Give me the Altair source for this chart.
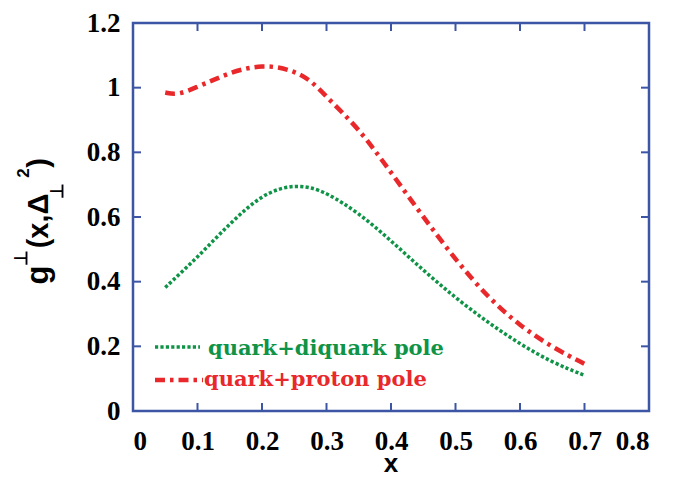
import altair as alt
import pandas as pd

# ---- data ----
x_diquark = [0.05, 0.075, 0.1, 0.125, 0.15, 0.175, 0.2, 0.225, 0.25, 0.275, 0.3, 0.35, 0.4, 0.45, 0.5, 0.55, 0.6, 0.65, 0.7]
y_diquark = [0.382, 0.429, 0.476, 0.528, 0.578, 0.625, 0.664, 0.687, 0.697, 0.692, 0.675, 0.613, 0.527, 0.435, 0.350, 0.274, 0.207, 0.150, 0.110]

x_proton = [0.05, 0.07, 0.1, 0.125, 0.15, 0.175, 0.2, 0.225, 0.25, 0.275, 0.3, 0.325, 0.35, 0.375, 0.4, 0.45, 0.5, 0.55, 0.6, 0.65, 0.7]
y_proton = [0.985, 0.977, 1.003, 1.024, 1.045, 1.060, 1.067, 1.064, 1.050, 1.024, 0.972, 0.922, 0.870, 0.806, 0.738, 0.600, 0.468, 0.352, 0.263, 0.197, 0.146]

series_names = ["quark+diquark pole", "quark+proton pole"]
x_ticks = [0, 0.1, 0.2, 0.3, 0.4, 0.5, 0.6, 0.7, 0.8]
y_ticks = [0, 0.2, 0.4, 0.6, 0.8, 1, 1.2]

GREEN = "#0f9447"
RED = "#e8282b"
BLUE = "#3c55a5"
W, H = 516, 388

df = pd.concat([
    pd.DataFrame({"x": x_diquark, "y": y_diquark, "series": series_names[0]}),
    pd.DataFrame({"x": x_proton, "y": y_proton, "series": series_names[1]}),
])

xs = alt.Scale(domain=[0, 0.8], nice=False)
ys = alt.Scale(domain=[0, 1.2], nice=False)

lab_font = "Liberation Serif"

x_axis = alt.Axis(values=x_ticks, labelExpr="datum.value + ''", ticks=False, domain=False, grid=False,
                  labelFont=lab_font, labelFontSize=27, labelFontWeight="bold", labelColor="black",
                  labelPadding=17, title=None)
y_axis = alt.Axis(values=y_ticks, labelExpr="datum.value + ''", ticks=False, domain=False, grid=False,
                  labelFont=lab_font, labelFontSize=27, labelFontWeight="bold", labelColor="black",
                  labelPadding=13, title=None)

base = alt.Chart(df)

green = base.transform_filter(alt.datum.series == series_names[0]).mark_line(
    color=GREEN, strokeWidth=3.5, strokeDash=[3.2, 2.2], interpolate="basis", strokeCap="butt"
).encode(x=alt.X("x:Q", scale=xs, axis=x_axis), y=alt.Y("y:Q", scale=ys, axis=y_axis), order="x:Q")

red = base.transform_filter(alt.datum.series == series_names[1]).mark_line(
    color=RED, strokeWidth=4.5, strokeDash=[10, 5, 3.5, 5], interpolate="basis", strokeCap="butt"
).encode(x=alt.X("x:Q", scale=xs), y=alt.Y("y:Q", scale=ys), order="x:Q")

xt = pd.DataFrame({"v": x_ticks[1:-1]})
yt = pd.DataFrame({"v": y_ticks[1:-1]})
TL = 8
tick_bottom = alt.Chart(xt).mark_rule(color=BLUE, strokeWidth=2).encode(
    x=alt.X("v:Q", scale=xs), y=alt.value(H), y2=alt.value(H - TL))
tick_top = alt.Chart(xt).mark_rule(color=BLUE, strokeWidth=2).encode(
    x=alt.X("v:Q", scale=xs), y=alt.value(0), y2=alt.value(TL))
tick_left = alt.Chart(yt).mark_rule(color=BLUE, strokeWidth=2).encode(
    y=alt.Y("v:Q", scale=ys), x=alt.value(0), x2=alt.value(TL))
tick_right = alt.Chart(yt).mark_rule(color=BLUE, strokeWidth=2).encode(
    y=alt.Y("v:Q", scale=ys), x=alt.value(W - TL), x2=alt.value(W))

# legend (drawn manually, inside plot area at lower left)
leg_g = pd.DataFrame({"t": [series_names[0]]})
leg_r = pd.DataFrame({"t": [series_names[1]]})
leg_line_g = alt.Chart(leg_g).mark_rule(color=GREEN, strokeWidth=3.5, strokeDash=[3.2, 2.2]).encode(
    x=alt.value(22), x2=alt.value(67), y=alt.value(324))
leg_line_r = alt.Chart(leg_r).mark_rule(color=RED, strokeWidth=4.5, strokeDash=[10, 5, 3.5, 5]).encode(
    x=alt.value(22), x2=alt.value(70), y=alt.value(357))
leg_txt_g = alt.Chart(leg_g).mark_text(align="left", baseline="alphabetic", font="DejaVu Serif",
                                       fontWeight="bold", fontSize=21, color=GREEN).encode(
    x=alt.value(75), y=alt.value(332), text="t:N")
leg_txt_r = alt.Chart(leg_r).mark_text(align="left", baseline="alphabetic", font="DejaVu Serif",
                                       fontWeight="bold", fontSize=21, color=RED).encode(
    x=alt.value(71), y=alt.value(363), text="t:N")

# axis titles
one = pd.DataFrame({"a": [0]})
def txt(s, x, y, size, angle=0):
    return alt.Chart(one).mark_text(text=s, align="center", baseline="alphabetic", font="Liberation Sans",
                                    fontWeight="bold", fontSize=size, color="black", angle=angle).encode(
        x=alt.value(x), y=alt.value(y))

x_title = txt("x", W / 2, 449, 26)
yt_g = txt("g", -85, 252, 31, 270)
yt_sup = txt("⊥", -106, 235, 18, 270)
yt_mid = txt("(x,Δ", -85, 198, 29, 270)
yt_sub = txt("⊥", -70, 168, 18, 270)
yt_2 = txt("2", -104, 150, 17, 270)
yt_close = txt(")", -85, 140, 29, 270)

chart = alt.layer(
    green, red, tick_bottom, tick_top, tick_left, tick_right,
    leg_line_g, leg_line_r, leg_txt_g, leg_txt_r,
    x_title, yt_g, yt_sup, yt_mid, yt_sub, yt_2, yt_close
).properties(
    width=W, height=H,
    autosize=alt.AutoSizeParams(type="none"),
    padding={"left": 125, "top": 15, "right": 15, "bottom": 66},
).configure_view(stroke=BLUE, strokeWidth=2.5)

chart.save("out.html", embed_options={"renderer": "svg", "actions": False})
